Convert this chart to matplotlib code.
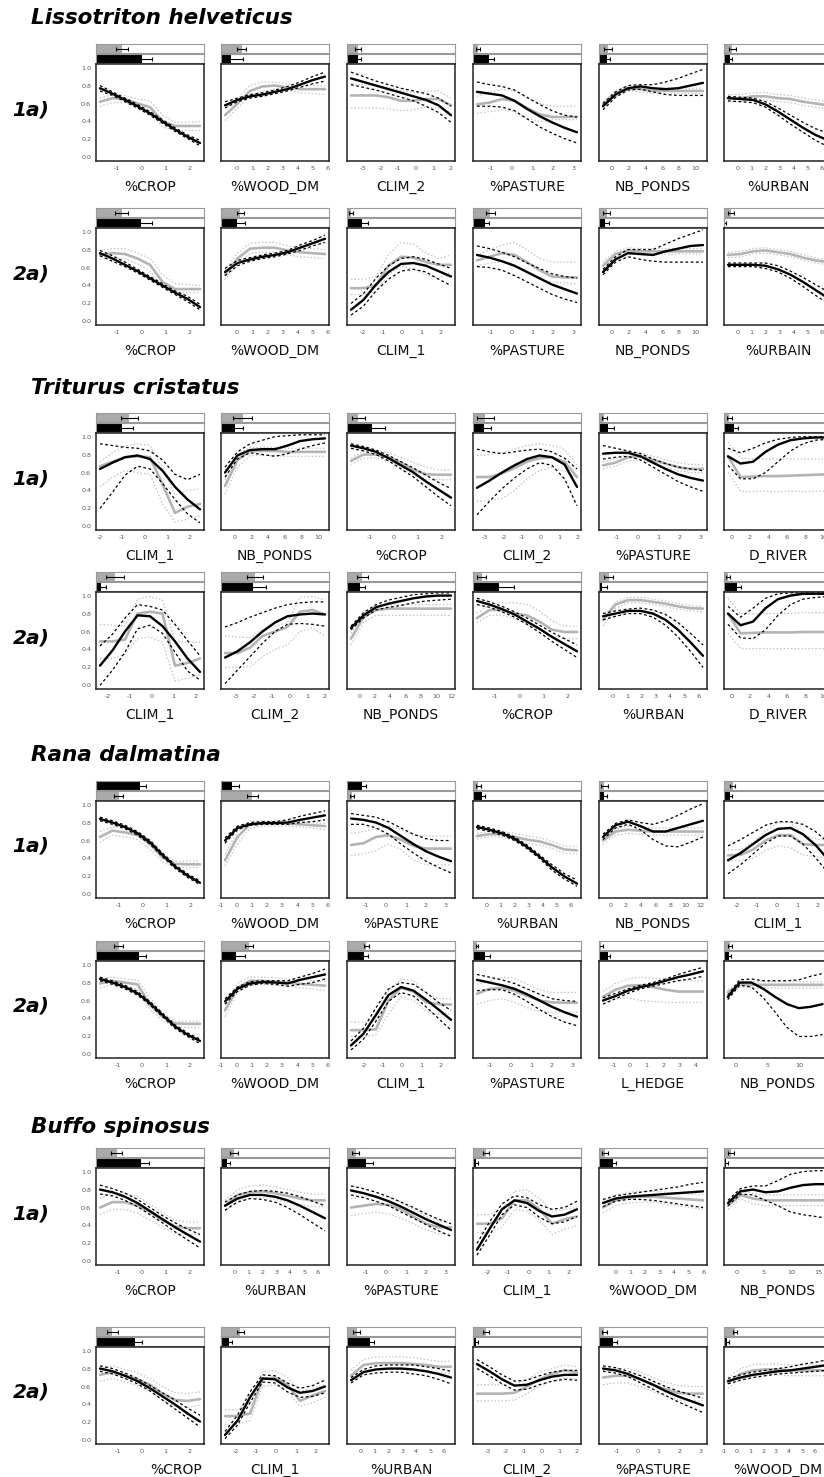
import numpy as np
import matplotlib
matplotlib.use("Agg")
import matplotlib.pyplot as plt

plt.rcParams['font.family'] = ['DejaVu Sans']
plt.rcParams['axes.unicode_minus'] = False

W, H = 824, 1477

SPECIES = ["Lissotriton helveticus", "Triturus cristatus", "Rana dalmatina", "Buffo spinosus"]
ROW_LABELS = ["1a)", "2a)"]
Y_TICKS = [0.0, 0.2, 0.4, 0.6, 0.8, 1.0]

# ---------------- Lissotriton helveticus 1a ----------------
LH1_VARS = ["%CROP", "%WOOD_DM", "CLIM_2", "%PASTURE", "NB_PONDS", "%URBAN"]
LH1_XRANGE = [(-1.70, 2.42), (-0.78, 5.83), (-3.66, 2.0), (-1.65, 3.18), (-1.05, 10.88), (-0.67, 6.47)]
LH1_TICKS = [[-1, 0, 1, 2], [0, 1, 2, 3, 4, 5, 6], [-3, -2, -1, 0, 1, 2], [-1, 0, 1, 2, 3], [0, 2, 4, 6, 8, 10], [0, 1, 2, 3, 4, 5, 6]]
LH1_BAR_GREY = [0.24, 0.19, 0.10, 0.045, 0.085, 0.077]
LH1_ERR_GREY = [0.055, 0.04, 0.03, 0.02, 0.037, 0.03]
LH1_BAR_BLACK = [0.43, 0.09, 0.10, 0.145, 0.075, 0.055]
LH1_ERR_BLACK = [0.09, 0.11, 0.03, 0.05, 0.03, 0.02]
LH1_BLACK_TOP = [False] * 6
LH1_BLACK = [[0.77, 0.71, 0.64, 0.57, 0.49, 0.40, 0.31, 0.23, 0.16],
             [0.58, 0.64, 0.68, 0.70, 0.73, 0.76, 0.81, 0.86, 0.90],
             [0.88, 0.84, 0.80, 0.76, 0.72, 0.68, 0.64, 0.58, 0.47],
             [0.73, 0.71, 0.69, 0.63, 0.54, 0.46, 0.39, 0.33, 0.28],
             [0.57, 0.70, 0.77, 0.79, 0.77, 0.76, 0.77, 0.80, 0.83],
             [0.66, 0.65, 0.64, 0.59, 0.51, 0.42, 0.33, 0.25, 0.19]]
LH1_BLACK_LO = [[0.74, 0.69, 0.62, 0.55, 0.47, 0.38, 0.29, 0.21, 0.13],
                [0.55, 0.62, 0.66, 0.68, 0.71, 0.74, 0.78, 0.82, 0.85],
                [0.81, 0.78, 0.75, 0.71, 0.67, 0.63, 0.57, 0.50, 0.39],
                [0.57, 0.57, 0.56, 0.52, 0.43, 0.34, 0.27, 0.21, 0.16],
                [0.53, 0.67, 0.75, 0.76, 0.73, 0.70, 0.69, 0.69, 0.69],
                [0.63, 0.62, 0.61, 0.56, 0.47, 0.37, 0.28, 0.19, 0.12]]
LH1_BLACK_HI = [[0.80, 0.73, 0.66, 0.59, 0.51, 0.42, 0.33, 0.25, 0.19],
                [0.62, 0.66, 0.70, 0.72, 0.75, 0.79, 0.84, 0.90, 0.95],
                [0.95, 0.90, 0.85, 0.81, 0.77, 0.74, 0.71, 0.66, 0.57],
                [0.84, 0.81, 0.79, 0.75, 0.67, 0.59, 0.52, 0.47, 0.45],
                [0.60, 0.73, 0.80, 0.81, 0.81, 0.84, 0.88, 0.93, 0.98],
                [0.68, 0.67, 0.66, 0.62, 0.55, 0.47, 0.39, 0.32, 0.27]]
LH1_GREY = [[0.62, 0.66, 0.65, 0.60, 0.56, 0.40, 0.35, 0.35, 0.35],
            [0.47, 0.60, 0.74, 0.79, 0.80, 0.78, 0.76, 0.76, 0.76],
            [0.69, 0.69, 0.69, 0.67, 0.63, 0.63, 0.65, 0.65, 0.58],
            [0.59, 0.61, 0.65, 0.63, 0.55, 0.48, 0.45, 0.45, 0.45],
            [0.59, 0.71, 0.77, 0.76, 0.74, 0.74, 0.74, 0.74, 0.74],
            [0.66, 0.66, 0.68, 0.68, 0.66, 0.65, 0.62, 0.60, 0.58]]
LH1_GREY_LO = [[0.57, 0.61, 0.61, 0.56, 0.51, 0.34, 0.30, 0.30, 0.30],
               [0.41, 0.55, 0.68, 0.74, 0.76, 0.75, 0.72, 0.71, 0.70],
               [0.55, 0.55, 0.55, 0.54, 0.52, 0.53, 0.56, 0.55, 0.50],
               [0.49, 0.51, 0.53, 0.51, 0.44, 0.40, 0.42, 0.42, 0.42],
               [0.55, 0.68, 0.74, 0.73, 0.71, 0.71, 0.71, 0.71, 0.71],
               [0.62, 0.62, 0.64, 0.64, 0.62, 0.61, 0.58, 0.56, 0.54]]
LH1_GREY_HI = [[0.66, 0.70, 0.69, 0.65, 0.63, 0.47, 0.39, 0.39, 0.40],
               [0.55, 0.65, 0.80, 0.84, 0.84, 0.82, 0.80, 0.80, 0.80],
               [0.82, 0.81, 0.80, 0.78, 0.74, 0.72, 0.74, 0.74, 0.66],
               [0.68, 0.72, 0.76, 0.74, 0.66, 0.60, 0.57, 0.57, 0.57],
               [0.62, 0.74, 0.80, 0.79, 0.77, 0.77, 0.77, 0.77, 0.77],
               [0.70, 0.70, 0.72, 0.72, 0.70, 0.69, 0.66, 0.64, 0.62]]

# ---------------- Lissotriton helveticus 2a ----------------
LH2_VARS = ["%CROP", "%WOOD_DM", "CLIM_1", "%PASTURE", "NB_PONDS", "%URBAIN"]
LH2_XRANGE = [(-1.70, 2.42), (-0.78, 5.83), (-2.63, 2.56), (-1.65, 3.18), (-1.05, 10.88), (-0.67, 6.47)]
LH2_TICKS = [[-1, 0, 1, 2], [0, 1, 2, 3, 4, 5, 6], [-2, -1, 0, 1, 2], [-1, 0, 1, 2, 3], [0, 2, 4, 6, 8, 10], [0, 1, 2, 3, 4, 5, 6]]
LH2_BAR_GREY = [0.24, 0.18, 0.04, 0.16, 0.07, 0.065]
LH2_ERR_GREY = [0.06, 0.03, 0.02, 0.04, 0.03, 0.03]
LH2_BAR_BLACK = [0.42, 0.145, 0.135, 0.115, 0.06, 0.01]
LH2_ERR_BLACK = [0.10, 0.08, 0.06, 0.03, 0.03, 0.01]
LH2_BLACK_TOP = [False] * 6
LH2_BLACK = [[0.76, 0.70, 0.63, 0.56, 0.48, 0.40, 0.32, 0.25, 0.16],
             [0.55, 0.65, 0.69, 0.72, 0.74, 0.77, 0.82, 0.87, 0.92],
             [0.13, 0.24, 0.41, 0.55, 0.64, 0.65, 0.62, 0.56, 0.50],
             [0.74, 0.71, 0.67, 0.62, 0.55, 0.48, 0.41, 0.36, 0.31],
             [0.55, 0.69, 0.76, 0.75, 0.74, 0.78, 0.81, 0.84, 0.85],
             [0.63, 0.63, 0.63, 0.62, 0.58, 0.52, 0.44, 0.35, 0.26]]
LH2_BLACK_LO = [[0.73, 0.67, 0.61, 0.54, 0.46, 0.38, 0.30, 0.22, 0.13],
                [0.51, 0.62, 0.67, 0.70, 0.72, 0.75, 0.79, 0.84, 0.88],
                [0.07, 0.17, 0.34, 0.47, 0.56, 0.58, 0.55, 0.47, 0.40],
                [0.61, 0.60, 0.57, 0.51, 0.44, 0.37, 0.30, 0.25, 0.21],
                [0.52, 0.66, 0.72, 0.69, 0.67, 0.66, 0.66, 0.66, 0.66],
                [0.61, 0.61, 0.61, 0.59, 0.55, 0.48, 0.39, 0.29, 0.20]]
LH2_BLACK_HI = [[0.79, 0.73, 0.66, 0.58, 0.50, 0.42, 0.34, 0.28, 0.19],
                [0.59, 0.68, 0.71, 0.74, 0.76, 0.79, 0.85, 0.90, 0.96],
                [0.20, 0.31, 0.48, 0.62, 0.70, 0.72, 0.69, 0.64, 0.59],
                [0.84, 0.81, 0.77, 0.72, 0.65, 0.59, 0.53, 0.50, 0.48],
                [0.58, 0.72, 0.80, 0.80, 0.80, 0.86, 0.92, 0.97, 1.02],
                [0.65, 0.65, 0.65, 0.65, 0.62, 0.56, 0.49, 0.41, 0.33]]
LH2_GREY = [[0.74, 0.76, 0.75, 0.70, 0.63, 0.44, 0.36, 0.36, 0.36],
            [0.52, 0.70, 0.81, 0.82, 0.82, 0.79, 0.77, 0.76, 0.75],
            [0.37, 0.37, 0.40, 0.62, 0.72, 0.71, 0.66, 0.63, 0.63],
            [0.68, 0.72, 0.76, 0.74, 0.66, 0.57, 0.50, 0.49, 0.49],
            [0.62, 0.75, 0.79, 0.78, 0.78, 0.78, 0.78, 0.78, 0.78],
            [0.74, 0.75, 0.78, 0.79, 0.77, 0.75, 0.71, 0.68, 0.66]]
LH2_GREY_LO = [[0.69, 0.71, 0.70, 0.64, 0.56, 0.38, 0.33, 0.32, 0.32],
               [0.46, 0.64, 0.76, 0.77, 0.77, 0.74, 0.72, 0.71, 0.70],
               [0.30, 0.30, 0.33, 0.52, 0.62, 0.58, 0.52, 0.48, 0.55],
               [0.62, 0.65, 0.66, 0.62, 0.55, 0.47, 0.44, 0.43, 0.42],
               [0.58, 0.71, 0.75, 0.75, 0.75, 0.75, 0.75, 0.75, 0.75],
               [0.71, 0.72, 0.75, 0.76, 0.74, 0.72, 0.68, 0.65, 0.63]]
LH2_GREY_HI = [[0.79, 0.81, 0.81, 0.76, 0.70, 0.52, 0.42, 0.41, 0.40],
               [0.57, 0.76, 0.87, 0.88, 0.88, 0.84, 0.82, 0.81, 0.80],
               [0.47, 0.47, 0.50, 0.74, 0.88, 0.86, 0.76, 0.70, 0.74],
               [0.73, 0.80, 0.85, 0.88, 0.80, 0.70, 0.66, 0.66, 0.66],
               [0.66, 0.78, 0.82, 0.81, 0.81, 0.81, 0.81, 0.81, 0.81],
               [0.77, 0.78, 0.81, 0.82, 0.80, 0.78, 0.74, 0.71, 0.69]]

# ---------------- Triturus cristatus 1a ----------------
TC1_VARS = ["CLIM_1", "NB_PONDS", "%CROP", "CLIM_2", "%PASTURE", "D_RIVER"]
TC1_XRANGE = [(-2.0, 2.49), (-1.21, 10.85), (-1.77, 2.38), (-3.45, 1.99), (-1.66, 3.13), (-0.40, 10.5)]
TC1_TICKS = [[-2, -1, 0, 1, 2], [0, 2, 4, 6, 8, 10], [-1, 0, 1, 2], [-3, -2, -1, 0, 1, 2], [-1, 0, 1, 2, 3], [0, 2, 4, 6, 8, 10]]
TC1_BAR_GREY = [0.31, 0.20, 0.105, 0.115, 0.05, 0.05]
TC1_ERR_GREY = [0.08, 0.086, 0.06, 0.08, 0.02, 0.02]
TC1_BAR_BLACK = [0.24, 0.13, 0.235, 0.10, 0.08, 0.095]
TC1_ERR_BLACK = [0.10, 0.07, 0.12, 0.07, 0.06, 0.03]
TC1_BLACK_TOP = [False] * 6
TC1_BLACK = [[0.64, 0.71, 0.77, 0.79, 0.75, 0.62, 0.44, 0.30, 0.19],
             [0.60, 0.79, 0.85, 0.86, 0.86, 0.90, 0.95, 0.97, 0.98],
             [0.90, 0.87, 0.83, 0.76, 0.68, 0.60, 0.50, 0.41, 0.32],
             [0.43, 0.51, 0.60, 0.68, 0.75, 0.79, 0.77, 0.69, 0.44],
             [0.81, 0.82, 0.82, 0.78, 0.71, 0.64, 0.58, 0.54, 0.51],
             [0.78, 0.70, 0.72, 0.83, 0.91, 0.96, 0.98, 0.99, 0.99]]
TC1_BLACK_LO = [[0.20, 0.38, 0.57, 0.67, 0.64, 0.48, 0.30, 0.14, 0.04],
                [0.55, 0.75, 0.82, 0.80, 0.78, 0.81, 0.86, 0.90, 0.93],
                [0.87, 0.84, 0.80, 0.73, 0.64, 0.55, 0.44, 0.33, 0.23],
                [0.13, 0.28, 0.42, 0.54, 0.64, 0.71, 0.68, 0.53, 0.23],
                [0.75, 0.77, 0.78, 0.74, 0.66, 0.58, 0.50, 0.44, 0.39],
                [0.68, 0.53, 0.53, 0.60, 0.72, 0.84, 0.92, 0.96, 0.97]]
TC1_BLACK_HI = [[0.92, 0.90, 0.88, 0.87, 0.84, 0.74, 0.58, 0.52, 0.58],
                [0.66, 0.83, 0.92, 0.96, 1.00, 1.01, 1.02, 1.02, 1.02],
                [0.92, 0.89, 0.85, 0.79, 0.72, 0.65, 0.57, 0.49, 0.42],
                [0.86, 0.83, 0.81, 0.83, 0.85, 0.86, 0.83, 0.76, 0.64],
                [0.90, 0.87, 0.84, 0.81, 0.75, 0.70, 0.66, 0.64, 0.62],
                [0.87, 0.82, 0.87, 0.93, 0.97, 0.99, 1.00, 1.00, 1.00]]
TC1_GREY = [[0.67, 0.72, 0.77, 0.78, 0.77, 0.47, 0.15, 0.22, 0.25],
            [0.45, 0.74, 0.84, 0.84, 0.84, 0.83, 0.83, 0.83, 0.83],
            [0.73, 0.80, 0.80, 0.77, 0.71, 0.63, 0.58, 0.575, 0.575],
            [0.55, 0.55, 0.59, 0.65, 0.72, 0.76, 0.77, 0.72, 0.55],
            [0.68, 0.71, 0.77, 0.78, 0.74, 0.70, 0.66, 0.64, 0.64],
            [0.78, 0.55, 0.555, 0.56, 0.56, 0.565, 0.57, 0.575, 0.58]]
TC1_GREY_LO = [[0.44, 0.55, 0.62, 0.60, 0.58, 0.25, 0.05, 0.08, 0.12],
               [0.36, 0.66, 0.79, 0.79, 0.79, 0.78, 0.78, 0.78, 0.78],
               [0.69, 0.76, 0.76, 0.73, 0.66, 0.57, 0.52, 0.52, 0.52],
               [0.28, 0.29, 0.31, 0.40, 0.53, 0.62, 0.66, 0.62, 0.54],
               [0.64, 0.67, 0.73, 0.74, 0.70, 0.66, 0.62, 0.60, 0.60],
               [0.60, 0.39, 0.39, 0.39, 0.39, 0.39, 0.39, 0.39, 0.39]]
TC1_GREY_HI = [[0.72, 0.82, 0.90, 0.92, 0.90, 0.65, 0.35, 0.40, 0.42],
               [0.52, 0.80, 0.88, 0.88, 0.88, 0.87, 0.87, 0.87, 0.87],
               [0.76, 0.84, 0.84, 0.82, 0.77, 0.71, 0.66, 0.63, 0.63],
               [0.79, 0.80, 0.82, 0.86, 0.90, 0.92, 0.90, 0.86, 0.68],
               [0.72, 0.75, 0.81, 0.82, 0.78, 0.74, 0.71, 0.69, 0.69],
               [0.94, 0.76, 0.75, 0.75, 0.75, 0.75, 0.75, 0.75, 0.75]]

# ---------------- Triturus cristatus 2a ----------------
TC2_VARS = ["CLIM_1", "CLIM_2", "NB_PONDS", "%CROP", "%URBAN", "D_RIVER"]
TC2_XRANGE = [(-2.36, 2.22), (-3.6, 2.0), (-1.08, 11.91), (-1.76, 2.39), (-0.68, 6.29), (-0.40, 10.5)]
TC2_TICKS = [[-2, -1, 0, 1, 2], [-3, -2, -1, 0, 1, 2], [0, 2, 4, 6, 8, 10, 12], [-1, 0, 1, 2], [0, 1, 2, 3, 4, 5, 6], [0, 2, 4, 6, 8, 10]]
TC2_BAR_GREY = [0.175, 0.315, 0.14, 0.08, 0.09, 0.04]
TC2_ERR_GREY = [0.08, 0.077, 0.05, 0.04, 0.04, 0.02]
TC2_BAR_BLACK = [0.05, 0.30, 0.12, 0.24, 0.03, 0.12]
TC2_ERR_BLACK = [0.04, 0.12, 0.05, 0.14, 0.04, 0.04]
TC2_BLACK_TOP = [False] * 6
TC2_BLACK = [[0.22, 0.39, 0.60, 0.78, 0.77, 0.66, 0.49, 0.30, 0.15],
             [0.31, 0.38, 0.48, 0.60, 0.70, 0.77, 0.79, 0.80, 0.79],
             [0.64, 0.78, 0.87, 0.91, 0.94, 0.97, 0.99, 1.00, 1.00],
             [0.94, 0.90, 0.85, 0.79, 0.71, 0.63, 0.54, 0.46, 0.38],
             [0.77, 0.80, 0.83, 0.83, 0.80, 0.73, 0.62, 0.48, 0.33],
             [0.80, 0.67, 0.71, 0.86, 0.96, 1.00, 1.02, 1.02, 1.02]]
TC2_BLACK_LO = [[0.00, 0.17, 0.37, 0.63, 0.67, 0.58, 0.37, 0.16, 0.06],
                [0.02, 0.17, 0.32, 0.47, 0.60, 0.68, 0.69, 0.68, 0.66],
                [0.62, 0.75, 0.84, 0.87, 0.89, 0.92, 0.94, 0.95, 0.96],
                [0.90, 0.87, 0.82, 0.76, 0.68, 0.59, 0.49, 0.40, 0.31],
                [0.73, 0.77, 0.80, 0.80, 0.76, 0.67, 0.54, 0.38, 0.20],
                [0.68, 0.53, 0.52, 0.62, 0.78, 0.90, 0.96, 0.98, 0.99]]
TC2_BLACK_HI = [[0.44, 0.57, 0.75, 0.90, 0.88, 0.84, 0.68, 0.50, 0.33],
                [0.65, 0.70, 0.76, 0.81, 0.86, 0.90, 0.92, 0.93, 0.93],
                [0.66, 0.81, 0.90, 0.95, 0.98, 1.01, 1.02, 1.03, 1.03],
                [0.97, 0.93, 0.88, 0.82, 0.75, 0.67, 0.59, 0.52, 0.45],
                [0.80, 0.83, 0.85, 0.86, 0.84, 0.79, 0.70, 0.58, 0.45],
                [0.88, 0.76, 0.86, 0.97, 1.02, 1.03, 1.03, 1.03, 1.03]]
TC2_GREY = [[0.49, 0.49, 0.51, 0.80, 0.82, 0.80, 0.22, 0.25, 0.30],
            [0.36, 0.36, 0.42, 0.55, 0.60, 0.65, 0.82, 0.84, 0.79],
            [0.52, 0.76, 0.84, 0.855, 0.855, 0.855, 0.855, 0.855, 0.855],
            [0.75, 0.84, 0.84, 0.80, 0.78, 0.71, 0.62, 0.595, 0.595],
            [0.73, 0.90, 0.95, 0.95, 0.93, 0.91, 0.88, 0.86, 0.855],
            [0.80, 0.58, 0.585, 0.59, 0.59, 0.59, 0.595, 0.595, 0.595]]
TC2_GREY_LO = [[0.30, 0.30, 0.35, 0.52, 0.54, 0.48, 0.05, 0.08, 0.12],
               [0.20, 0.20, 0.21, 0.32, 0.40, 0.45, 0.60, 0.64, 0.55],
               [0.45, 0.70, 0.78, 0.78, 0.78, 0.78, 0.78, 0.78, 0.78],
               [0.70, 0.78, 0.78, 0.74, 0.69, 0.62, 0.55, 0.52, 0.52],
               [0.66, 0.86, 0.92, 0.92, 0.90, 0.88, 0.85, 0.83, 0.82],
               [0.58, 0.41, 0.41, 0.41, 0.41, 0.41, 0.41, 0.41, 0.41]]
TC2_GREY_HI = [[0.68, 0.67, 0.66, 0.96, 0.99, 0.95, 0.50, 0.48, 0.48],
               [0.55, 0.54, 0.53, 0.62, 0.66, 0.70, 0.98, 0.99, 0.95],
               [0.58, 0.80, 0.89, 0.90, 0.90, 0.90, 0.90, 0.90, 0.90],
               [0.80, 0.90, 0.92, 0.92, 0.90, 0.83, 0.72, 0.66, 0.66],
               [0.76, 0.93, 0.98, 0.98, 0.96, 0.94, 0.91, 0.89, 0.88],
               [0.97, 0.80, 0.80, 0.80, 0.80, 0.80, 0.81, 0.81, 0.81]]

# ---------------- Rana dalmatina 1a ----------------
RD1_VARS = ["%CROP", "%WOOD_DM", "%PASTURE", "%URBAN", "NB_PONDS", "CLIM_1"]
RD1_XRANGE = [(-1.80, 2.42), (-0.74, 5.82), (-1.74, 3.25), (-0.65, 6.47), (-1.04, 12.35), (-2.43, 2.52)]
RD1_TICKS = [[-1, 0, 1, 2], [-1, 0, 1, 2, 3, 4, 5, 6], [-1, 0, 1, 2, 3], [0, 1, 2, 3, 4, 5, 6], [0, 2, 4, 6, 8, 10, 12], [-2, -1, 0, 1, 2]]
RD1_BAR_GREY = [0.21, 0.29, 0.045, 0.05, 0.05, 0.08]
RD1_ERR_GREY = [0.04, 0.05, 0.02, 0.02, 0.03, 0.02]
RD1_BAR_BLACK = [0.41, 0.105, 0.135, 0.08, 0.05, 0.055]
RD1_ERR_BLACK = [0.05, 0.06, 0.04, 0.03, 0.02, 0.02]
RD1_BLACK_TOP = [True, True, True, False, False, False]
RD1_BLACK = [[0.84, 0.80, 0.75, 0.68, 0.58, 0.44, 0.31, 0.21, 0.13],
             [0.60, 0.74, 0.78, 0.795, 0.795, 0.80, 0.83, 0.855, 0.88],
             [0.845, 0.83, 0.80, 0.74, 0.65, 0.56, 0.48, 0.42, 0.37],
             [0.75, 0.72, 0.68, 0.62, 0.53, 0.42, 0.30, 0.20, 0.12],
             [0.64, 0.77, 0.81, 0.76, 0.70, 0.70, 0.74, 0.78, 0.82],
             [0.38, 0.46, 0.56, 0.66, 0.73, 0.74, 0.67, 0.55, 0.39]]
RD1_BLACK_LO = [[0.82, 0.78, 0.73, 0.66, 0.56, 0.42, 0.29, 0.19, 0.11],
                [0.57, 0.72, 0.77, 0.78, 0.78, 0.78, 0.80, 0.81, 0.83],
                [0.78, 0.78, 0.74, 0.67, 0.56, 0.46, 0.37, 0.30, 0.24],
                [0.73, 0.70, 0.66, 0.60, 0.51, 0.40, 0.27, 0.17, 0.09],
                [0.61, 0.74, 0.78, 0.72, 0.61, 0.54, 0.53, 0.58, 0.64],
                [0.23, 0.33, 0.45, 0.57, 0.65, 0.65, 0.56, 0.41, 0.24]]
RD1_BLACK_HI = [[0.86, 0.82, 0.77, 0.70, 0.60, 0.46, 0.33, 0.23, 0.15],
                [0.63, 0.76, 0.80, 0.81, 0.81, 0.83, 0.87, 0.90, 0.93],
                [0.90, 0.88, 0.86, 0.81, 0.74, 0.67, 0.62, 0.60, 0.60],
                [0.77, 0.74, 0.70, 0.64, 0.55, 0.44, 0.33, 0.23, 0.16],
                [0.67, 0.79, 0.83, 0.80, 0.78, 0.82, 0.88, 0.95, 1.01],
                [0.54, 0.61, 0.69, 0.77, 0.81, 0.81, 0.78, 0.70, 0.58]]
RD1_GREY = [[0.64, 0.71, 0.69, 0.66, 0.56, 0.41, 0.34, 0.335, 0.335],
            [0.38, 0.64, 0.78, 0.79, 0.79, 0.79, 0.78, 0.77, 0.76],
            [0.55, 0.57, 0.64, 0.66, 0.61, 0.54, 0.51, 0.51, 0.51],
            [0.65, 0.67, 0.67, 0.64, 0.61, 0.59, 0.55, 0.50, 0.49],
            [0.60, 0.70, 0.72, 0.71, 0.70, 0.70, 0.70, 0.70, 0.70],
            [0.435, 0.44, 0.50, 0.60, 0.66, 0.66, 0.56, 0.55, 0.55]]
RD1_GREY_LO = [[0.58, 0.66, 0.64, 0.61, 0.50, 0.36, 0.30, 0.30, 0.30],
               [0.32, 0.56, 0.74, 0.76, 0.76, 0.76, 0.75, 0.74, 0.72],
               [0.43, 0.45, 0.49, 0.56, 0.50, 0.38, 0.33, 0.33, 0.33],
               [0.62, 0.64, 0.64, 0.60, 0.57, 0.55, 0.51, 0.46, 0.45],
               [0.56, 0.66, 0.68, 0.67, 0.66, 0.66, 0.66, 0.66, 0.66],
               [0.37, 0.38, 0.40, 0.49, 0.54, 0.52, 0.44, 0.42, 0.40]]
RD1_GREY_HI = [[0.70, 0.75, 0.74, 0.70, 0.61, 0.46, 0.37, 0.37, 0.37],
               [0.45, 0.70, 0.82, 0.82, 0.82, 0.82, 0.81, 0.80, 0.79],
               [0.68, 0.70, 0.73, 0.76, 0.72, 0.66, 0.65, 0.65, 0.65],
               [0.68, 0.70, 0.70, 0.68, 0.65, 0.63, 0.59, 0.54, 0.53],
               [0.62, 0.73, 0.76, 0.75, 0.74, 0.74, 0.74, 0.74, 0.74],
               [0.50, 0.50, 0.58, 0.70, 0.80, 0.80, 0.66, 0.62, 0.60]]

# ---------------- Rana dalmatina 2a ----------------
RD2_VARS = ["%CROP", "%WOOD_DM", "CLIM_1", "%PASTURE", "L_HEDGE", "NB_PONDS"]
RD2_XRANGE = [(-1.75, 2.42), (-0.74, 5.82), (-2.64, 2.54), (-1.65, 3.24), (-1.63, 4.41), (-1.17, 13.53)]
RD2_TICKS = [[-1, 0, 1, 2], [-1, 0, 1, 2, 3, 4, 5, 6], [-2, -1, 0, 1, 2], [-1, 0, 1, 2, 3], [-1, 0, 1, 2, 3, 4], [0, 5, 10, 15]]
RD2_BAR_GREY = [0.21, 0.26, 0.18, 0.04, 0.02, 0.055]
RD2_ERR_GREY = [0.04, 0.04, 0.02, 0.01, 0.02, 0.02]
RD2_BAR_BLACK = [0.40, 0.14, 0.16, 0.115, 0.08, 0.046]
RD2_ERR_BLACK = [0.06, 0.08, 0.03, 0.04, 0.02, 0.02]
RD2_BLACK_TOP = [False] * 6
RD2_BLACK = [[0.84, 0.80, 0.75, 0.68, 0.57, 0.44, 0.31, 0.22, 0.15],
             [0.59, 0.73, 0.79, 0.805, 0.80, 0.79, 0.83, 0.86, 0.89],
             [0.10, 0.23, 0.44, 0.66, 0.75, 0.71, 0.61, 0.50, 0.385],
             [0.83, 0.80, 0.77, 0.73, 0.67, 0.60, 0.53, 0.47, 0.42],
             [0.60, 0.65, 0.71, 0.75, 0.78, 0.82, 0.86, 0.89, 0.925],
             [0.64, 0.80, 0.80, 0.73, 0.64, 0.56, 0.515, 0.53, 0.56]]
RD2_BLACK_LO = [[0.82, 0.78, 0.73, 0.66, 0.55, 0.42, 0.29, 0.20, 0.12],
                [0.56, 0.70, 0.77, 0.79, 0.78, 0.76, 0.78, 0.80, 0.84],
                [0.05, 0.17, 0.37, 0.59, 0.69, 0.65, 0.53, 0.40, 0.27],
                [0.71, 0.72, 0.72, 0.67, 0.59, 0.50, 0.42, 0.36, 0.32],
                [0.56, 0.62, 0.68, 0.73, 0.76, 0.79, 0.82, 0.84, 0.87],
                [0.61, 0.77, 0.75, 0.63, 0.47, 0.30, 0.20, 0.20, 0.22]]
RD2_BLACK_HI = [[0.86, 0.82, 0.77, 0.70, 0.59, 0.46, 0.33, 0.24, 0.17],
                [0.62, 0.75, 0.81, 0.82, 0.82, 0.82, 0.86, 0.90, 0.95],
                [0.15, 0.29, 0.52, 0.73, 0.80, 0.78, 0.69, 0.58, 0.49],
                [0.89, 0.86, 0.83, 0.79, 0.73, 0.67, 0.62, 0.60, 0.59],
                [0.63, 0.68, 0.73, 0.77, 0.80, 0.84, 0.89, 0.93, 0.97],
                [0.66, 0.83, 0.84, 0.82, 0.82, 0.82, 0.83, 0.87, 0.90]]
RD2_GREY = [[0.79, 0.82, 0.80, 0.78, 0.55, 0.42, 0.345, 0.34, 0.34],
            [0.49, 0.74, 0.82, 0.82, 0.81, 0.80, 0.785, 0.775, 0.765],
            [0.27, 0.27, 0.28, 0.60, 0.74, 0.70, 0.58, 0.56, 0.555],
            [0.675, 0.73, 0.74, 0.71, 0.65, 0.60, 0.58, 0.575, 0.575],
            [0.64, 0.72, 0.765, 0.77, 0.75, 0.72, 0.70, 0.70, 0.70],
            [0.69, 0.78, 0.775, 0.775, 0.775, 0.775, 0.775, 0.775, 0.775]]
RD2_GREY_LO = [[0.74, 0.78, 0.76, 0.72, 0.50, 0.38, 0.31, 0.30, 0.30],
               [0.42, 0.69, 0.78, 0.78, 0.77, 0.76, 0.74, 0.73, 0.71],
               [0.20, 0.20, 0.22, 0.45, 0.64, 0.60, 0.48, 0.45, 0.45],
               [0.56, 0.60, 0.62, 0.58, 0.52, 0.48, 0.47, 0.47, 0.47],
               [0.57, 0.62, 0.63, 0.60, 0.59, 0.58, 0.58, 0.58, 0.58],
               [0.66, 0.75, 0.74, 0.74, 0.74, 0.74, 0.74, 0.74, 0.74]]
RD2_GREY_HI = [[0.83, 0.86, 0.84, 0.83, 0.63, 0.46, 0.37, 0.37, 0.37],
               [0.56, 0.79, 0.86, 0.86, 0.85, 0.84, 0.83, 0.82, 0.81],
               [0.36, 0.36, 0.38, 0.71, 0.84, 0.82, 0.68, 0.62, 0.62],
               [0.78, 0.82, 0.86, 0.85, 0.78, 0.72, 0.69, 0.69, 0.69],
               [0.70, 0.79, 0.84, 0.86, 0.85, 0.84, 0.83, 0.82, 0.82],
               [0.72, 0.80, 0.81, 0.81, 0.81, 0.81, 0.81, 0.81, 0.81]]

# ---------------- Buffo spinosus 1a ----------------
BS1_VARS = ["%CROP", "%URBAN", "%PASTURE", "CLIM_1", "%WOOD_DM", "NB_PONDS"]
BS1_XRANGE = [(-1.72, 2.42), (-0.71, 6.51), (-1.74, 3.25), (-2.55, 2.40), (-0.83, 5.96), (-1.6, 16.8)]
BS1_TICKS = [[-1, 0, 1, 2], [0, 1, 2, 3, 4, 5, 6], [-1, 0, 1, 2, 3], [-2, -1, 0, 1, 2], [0, 1, 2, 3, 4, 5, 6], [0, 5, 10, 15]]
BS1_BAR_GREY = [0.19, 0.12, 0.08, 0.12, 0.055, 0.065]
BS1_ERR_GREY = [0.05, 0.04, 0.03, 0.03, 0.03, 0.03]
BS1_BAR_BLACK = [0.42, 0.055, 0.18, 0.03, 0.13, 0.02]
BS1_ERR_BLACK = [0.07, 0.03, 0.06, 0.02, 0.03, 0.02]
BS1_BLACK_TOP = [False] * 6
BS1_BLACK = [[0.80, 0.77, 0.72, 0.65, 0.56, 0.47, 0.38, 0.30, 0.22],
             [0.62, 0.70, 0.74, 0.74, 0.72, 0.68, 0.62, 0.55, 0.48],
             [0.79, 0.76, 0.72, 0.67, 0.61, 0.54, 0.47, 0.41, 0.35],
             [0.13, 0.36, 0.58, 0.68, 0.65, 0.56, 0.50, 0.52, 0.58],
             [0.65, 0.70, 0.72, 0.73, 0.74, 0.75, 0.76, 0.77, 0.78],
             [0.65, 0.78, 0.80, 0.77, 0.78, 0.82, 0.85, 0.86, 0.86]]
BS1_BLACK_LO = [[0.75, 0.73, 0.68, 0.61, 0.52, 0.43, 0.33, 0.24, 0.15],
                [0.57, 0.66, 0.70, 0.69, 0.66, 0.60, 0.52, 0.43, 0.34],
                [0.74, 0.71, 0.67, 0.62, 0.55, 0.48, 0.41, 0.34, 0.28],
                [0.07, 0.29, 0.52, 0.63, 0.60, 0.49, 0.42, 0.44, 0.50],
                [0.61, 0.67, 0.69, 0.69, 0.68, 0.66, 0.64, 0.62, 0.60],
                [0.62, 0.75, 0.74, 0.68, 0.62, 0.55, 0.52, 0.50, 0.48]]
BS1_BLACK_HI = [[0.85, 0.81, 0.76, 0.69, 0.60, 0.51, 0.43, 0.36, 0.30],
                [0.66, 0.74, 0.78, 0.79, 0.78, 0.76, 0.72, 0.67, 0.62],
                [0.84, 0.81, 0.77, 0.72, 0.66, 0.60, 0.53, 0.47, 0.42],
                [0.20, 0.44, 0.64, 0.73, 0.71, 0.63, 0.58, 0.60, 0.67],
                [0.69, 0.73, 0.75, 0.77, 0.79, 0.81, 0.83, 0.86, 0.88],
                [0.68, 0.81, 0.84, 0.84, 0.90, 0.97, 1.00, 1.01, 1.01]]
BS1_GREY = [[0.60, 0.66, 0.66, 0.62, 0.55, 0.46, 0.39, 0.37, 0.37],
            [0.62, 0.74, 0.77, 0.78, 0.76, 0.73, 0.70, 0.68, 0.68],
            [0.60, 0.62, 0.64, 0.63, 0.58, 0.50, 0.42, 0.38, 0.38],
            [0.42, 0.42, 0.48, 0.68, 0.68, 0.58, 0.42, 0.47, 0.50],
            [0.60, 0.68, 0.71, 0.72, 0.72, 0.71, 0.70, 0.69, 0.68],
            [0.62, 0.74, 0.70, 0.68, 0.68, 0.68, 0.68, 0.68, 0.68]]
BS1_GREY_LO = [[0.52, 0.58, 0.58, 0.54, 0.46, 0.38, 0.31, 0.30, 0.30],
               [0.56, 0.68, 0.70, 0.71, 0.69, 0.66, 0.63, 0.61, 0.61],
               [0.51, 0.53, 0.55, 0.53, 0.48, 0.42, 0.35, 0.31, 0.31],
               [0.32, 0.32, 0.38, 0.58, 0.56, 0.46, 0.30, 0.36, 0.40],
               [0.54, 0.62, 0.65, 0.66, 0.66, 0.64, 0.62, 0.60, 0.58],
               [0.58, 0.70, 0.64, 0.62, 0.62, 0.62, 0.62, 0.62, 0.62]]
BS1_GREY_HI = [[0.70, 0.76, 0.76, 0.72, 0.64, 0.54, 0.46, 0.44, 0.44],
               [0.68, 0.80, 0.84, 0.85, 0.83, 0.80, 0.77, 0.75, 0.75],
               [0.70, 0.72, 0.73, 0.72, 0.66, 0.58, 0.50, 0.46, 0.46],
               [0.52, 0.52, 0.58, 0.78, 0.80, 0.70, 0.55, 0.58, 0.60],
               [0.66, 0.74, 0.77, 0.78, 0.78, 0.77, 0.76, 0.75, 0.74],
               [0.66, 0.78, 0.76, 0.74, 0.74, 0.74, 0.74, 0.74, 0.74]]

# ---------------- Buffo spinosus 2a ----------------
BS2_VARS = ["%CROP", "CLIM_1", "%URBAN", "CLIM_2", "%PASTURE", "%WOOD_DM"]
BS2_XRANGE = [(-1.72, 2.42), (-2.55, 2.45), (-0.71, 6.51), (-3.63, 2.03), (-1.66, 3.13), (-0.70, 7.0)]
BS2_TICKS = [[-1, 0, 1, 2], [-2, -1, 0, 1, 2], [0, 1, 2, 3, 4, 5, 6], [-3, -2, -1, 0, 1, 2], [-1, 0, 1, 2, 3], [-1, 0, 1, 2, 3, 4, 5, 6]]
BS2_BAR_GREY = [0.15, 0.18, 0.09, 0.12, 0.05, 0.10]
BS2_ERR_GREY = [0.05, 0.03, 0.03, 0.03, 0.02, 0.02]
BS2_BAR_BLACK = [0.36, 0.07, 0.21, 0.03, 0.13, 0.03]
BS2_ERR_BLACK = [0.07, 0.03, 0.04, 0.02, 0.04, 0.02]
BS2_BLACK_TOP = [False] * 6
BS2_BLACK = [[0.80, 0.77, 0.72, 0.66, 0.58, 0.49, 0.40, 0.30, 0.21],
             [0.06, 0.22, 0.48, 0.69, 0.68, 0.59, 0.53, 0.55, 0.60],
             [0.67, 0.76, 0.79, 0.80, 0.80, 0.79, 0.77, 0.74, 0.70],
             [0.85, 0.77, 0.68, 0.61, 0.62, 0.67, 0.71, 0.73, 0.73],
             [0.80, 0.78, 0.74, 0.68, 0.62, 0.55, 0.49, 0.44, 0.39],
             [0.66, 0.70, 0.73, 0.75, 0.77, 0.78, 0.80, 0.82, 0.84]]
BS2_BLACK_LO = [[0.77, 0.74, 0.69, 0.63, 0.55, 0.45, 0.35, 0.25, 0.15],
                [0.02, 0.17, 0.42, 0.65, 0.64, 0.54, 0.48, 0.49, 0.53],
                [0.64, 0.73, 0.75, 0.76, 0.76, 0.74, 0.72, 0.68, 0.63],
                [0.80, 0.72, 0.63, 0.56, 0.57, 0.62, 0.66, 0.68, 0.67],
                [0.77, 0.75, 0.71, 0.64, 0.57, 0.50, 0.43, 0.37, 0.31],
                [0.63, 0.67, 0.70, 0.72, 0.74, 0.75, 0.76, 0.77, 0.78]]
BS2_BLACK_HI = [[0.83, 0.80, 0.75, 0.69, 0.61, 0.53, 0.45, 0.36, 0.28],
                [0.10, 0.28, 0.54, 0.73, 0.72, 0.64, 0.58, 0.61, 0.67],
                [0.70, 0.79, 0.83, 0.84, 0.84, 0.84, 0.82, 0.80, 0.77],
                [0.90, 0.82, 0.73, 0.66, 0.67, 0.72, 0.76, 0.78, 0.78],
                [0.83, 0.81, 0.77, 0.72, 0.66, 0.60, 0.55, 0.51, 0.47],
                [0.69, 0.73, 0.76, 0.78, 0.80, 0.82, 0.85, 0.87, 0.90]]
BS2_GREY = [[0.73, 0.76, 0.72, 0.68, 0.62, 0.52, 0.45, 0.44, 0.46],
            [0.27, 0.27, 0.30, 0.68, 0.70, 0.62, 0.44, 0.50, 0.55],
            [0.72, 0.84, 0.86, 0.86, 0.86, 0.85, 0.84, 0.82, 0.82],
            [0.52, 0.52, 0.52, 0.53, 0.60, 0.68, 0.74, 0.78, 0.76],
            [0.70, 0.72, 0.72, 0.68, 0.62, 0.57, 0.53, 0.52, 0.52],
            [0.64, 0.74, 0.78, 0.79, 0.79, 0.78, 0.78, 0.78, 0.78]]
BS2_GREY_LO = [[0.66, 0.69, 0.65, 0.61, 0.55, 0.45, 0.38, 0.37, 0.39],
               [0.18, 0.18, 0.22, 0.60, 0.62, 0.54, 0.38, 0.42, 0.48],
               [0.66, 0.78, 0.79, 0.79, 0.79, 0.78, 0.77, 0.75, 0.75],
               [0.44, 0.44, 0.44, 0.45, 0.52, 0.60, 0.66, 0.70, 0.68],
               [0.62, 0.64, 0.64, 0.60, 0.54, 0.49, 0.45, 0.44, 0.44],
               [0.58, 0.68, 0.72, 0.73, 0.73, 0.72, 0.72, 0.72, 0.72]]
BS2_GREY_HI = [[0.80, 0.83, 0.79, 0.75, 0.69, 0.60, 0.53, 0.52, 0.54],
               [0.34, 0.34, 0.40, 0.76, 0.78, 0.70, 0.55, 0.58, 0.62],
               [0.78, 0.90, 0.93, 0.93, 0.93, 0.92, 0.90, 0.88, 0.88],
               [0.62, 0.62, 0.62, 0.62, 0.68, 0.76, 0.80, 0.84, 0.82],
               [0.78, 0.80, 0.80, 0.76, 0.70, 0.65, 0.61, 0.60, 0.60],
               [0.70, 0.80, 0.84, 0.85, 0.85, 0.84, 0.84, 0.84, 0.84]]

# ---------------- assembly ----------------
def row(prefix):
    g = globals()
    keys = ["VARS", "XRANGE", "TICKS", "BAR_GREY", "ERR_GREY", "BAR_BLACK", "ERR_BLACK",
            "BLACK_TOP", "BLACK", "BLACK_LO", "BLACK_HI", "GREY", "GREY_LO", "GREY_HI"]
    return {k: g[prefix + "_" + k] for k in keys}

ROWS = [row("LH1"), row("LH2"), row("TC1"), row("TC2"), row("RD1"), row("RD2"), row("BS1"), row("BS2")]

# layout (pixels)
ROW_TOP = [44, 208, 413, 572, 781, 941, 1148, 1327]
TITLE_Y = [18, 388, 755, 1127]
COL_LEFT = [96, 221, 347, 473, 599, 724]
XLABEL_SHIFT = {(7, 0): 26}   # in the original, the last row's first label sits off-centre
PW = 108
STRIP_H = 9.3
MAIN_OFF = 20
MAIN_H = 97

GREY_BAR = "#aaaaaa"
GREY_LINE = "#b4b4b4"
GREY_DOT = "#c4c4c4"
TICK_COL = "#555555"

fig = plt.figure(figsize=(W / 100, H / 100), dpi=100)


def rect(x, y, w, h):
    return [x / W, 1 - (y + h) / H, w / W, h / H]


def strip(x, y, val, err, color):
    ax = fig.add_axes(rect(x, y, PW, STRIP_H))
    ax.barh(0, val, height=1.0, left=0, color=color, edgecolor="none")
    ax.errorbar([val], [0], xerr=[err], fmt="none", ecolor="black", elinewidth=0.8,
                capsize=1.6, capthick=0.8)
    ax.set_xlim(0, 1)
    ax.set_ylim(-0.5, 0.5)
    ax.set_xticks([])
    ax.set_yticks([])
    for s in ax.spines.values():
        s.set_color("#999999")
        s.set_linewidth(0.8)


def panel(x, y, d, i, first, shift):
    g = (d["BAR_GREY"][i], d["ERR_GREY"][i], GREY_BAR)
    b = (d["BAR_BLACK"][i], d["ERR_BLACK"][i], "black")
    order = [b, g] if d["BLACK_TOP"][i] else [g, b]
    for k, (v, e, c) in enumerate(order):
        strip(x, y + k * 10, v, e, c)

    ax = fig.add_axes(rect(x, y + MAIN_OFF, PW, MAIN_H))
    a0, a1 = d["XRANGE"][i]
    n = len(d["BLACK"][i])
    xs = np.linspace(a0, a1, n)
    dot = (0, (1.2, 1.6))
    ax.plot(xs, d["GREY_LO"][i], color=GREY_DOT, lw=0.9, ls=dot)
    ax.plot(xs, d["GREY_HI"][i], color=GREY_DOT, lw=0.9, ls=dot)
    ax.plot(xs, d["GREY"][i], color=GREY_LINE, lw=1.9, solid_capstyle="round")
    ax.plot(xs, d["BLACK_LO"][i], color="black", lw=0.9, ls=(0, (2.2, 2.0)))
    ax.plot(xs, d["BLACK_HI"][i], color="black", lw=0.9, ls=(0, (2.2, 2.0)))
    ax.plot(xs, d["BLACK"][i], color="black", lw=1.7, solid_capstyle="round")
    pad = 0.04 * (a1 - a0)
    ax.set_xlim(a0 - pad, a1 + pad)
    ax.set_ylim(-0.04, 1.04)
    ax.set_xticks(d["TICKS"][i])
    ax.set_xticklabels([str(t) for t in d["TICKS"][i]])
    ax.tick_params(axis="x", length=0, pad=3.5, labelsize=4.6, labelcolor=TICK_COL)
    if first:
        ax.set_yticks(Y_TICKS)
        ax.set_yticklabels(["%.1f" % t for t in Y_TICKS])
        ax.tick_params(axis="y", length=0, pad=3.5, labelsize=4.6, labelcolor=TICK_COL)
    else:
        ax.set_yticks([])
    for s in ax.spines.values():
        s.set_color("#222222")
        s.set_linewidth(1.1)
    if shift:
        ax.text(0.5 + shift / PW, -25.5 / MAIN_H, d["VARS"][i], transform=ax.transAxes,
                fontsize=10, color="#111111", ha="center", va="center")
    else:
        ax.set_xlabel(d["VARS"][i], fontsize=10, labelpad=6.5, color="#111111")


for r, d in enumerate(ROWS):
    ytop = ROW_TOP[r]
    for i, x in enumerate(COL_LEFT):
        panel(x, ytop, d, i, i == 0, XLABEL_SHIFT.get((r, i), 0))
    fig.text(31 / W, 1 - (ytop + MAIN_OFF + MAIN_H / 2 - 3) / H, ROW_LABELS[r % 2],
             fontsize=14.5, fontweight="bold", fontstyle="italic", ha="center", va="center")

for s, name in enumerate(SPECIES):
    fig.text(31 / W, 1 - TITLE_Y[s] / H, name, fontsize=15.5, fontweight="bold",
             fontstyle="italic", ha="left", va="center")

fig.savefig("out.png", dpi=100)
